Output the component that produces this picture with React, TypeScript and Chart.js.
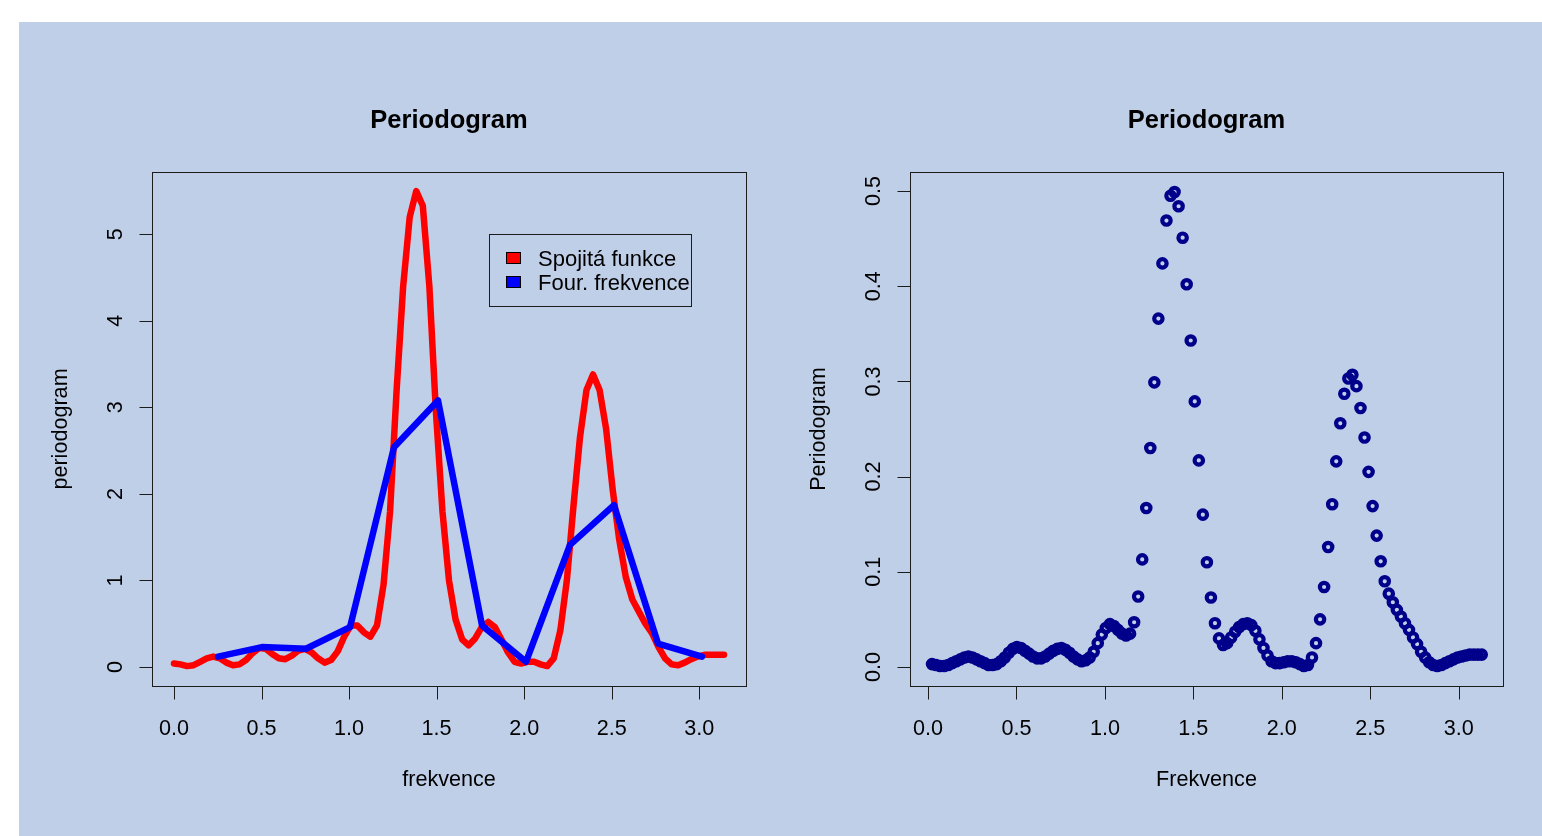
import React, { useEffect, useRef } from 'react';
import { Chart, registerables } from 'chart.js';

Chart.register(...registerables);

const FONT = '"Liberation Sans", Arial, Helvetica, sans-serif';
const BG = 'rgb(191,207,232)';

// ---------- left panel data ----------
// continuous periodogram sampled on [0, pi]
const RED_STEP = Math.PI / 84;
const redValues = [
  0.04, 0.03, 0.01, 0.02, 0.06, 0.10, 0.12, 0.10, 0.05, 0.02,
  0.03, 0.08, 0.16, 0.22, 0.21, 0.15, 0.10, 0.09, 0.13, 0.19,
  0.21, 0.17, 0.10, 0.05, 0.08, 0.18, 0.35, 0.48, 0.48, 0.40,
  0.35, 0.48, 0.95, 1.80, 3.20, 4.40, 5.20, 5.50, 5.33, 4.40,
  2.95, 1.80, 1.00, 0.55, 0.32, 0.25, 0.33, 0.46, 0.52, 0.46,
  0.32, 0.17, 0.06, 0.04, 0.06, 0.06, 0.03, 0.01, 0.10, 0.42,
  1.00, 1.85, 2.65, 3.20, 3.38, 3.20, 2.75, 2.05, 1.47, 1.04,
  0.78, 0.64, 0.50, 0.39, 0.23, 0.10, 0.03, 0.02, 0.05, 0.09,
  0.12, 0.14, 0.14, 0.14, 0.14,
];
// Fourier frequencies 2*pi*k/25, k = 1..12
const FOURIER_STEP = (2 * Math.PI) / 25;
const fourierValues = [0.12, 0.23, 0.21, 0.46, 2.54, 3.08, 0.48, 0.06, 1.41, 1.87, 0.27, 0.12];

const leftXTicks = [0, 0.5, 1, 1.5, 2, 2.5, 3];
const leftXTickLabels = ['0.0', '0.5', '1.0', '1.5', '2.0', '2.5', '3.0'];
const leftYTicks = [0, 1, 2, 3, 4, 5];
const leftYTickLabels = ['0', '1', '2', '3', '4', '5'];

// ---------- right panel data ----------
const DOT_STEP = (2 * Math.PI) / 275;
const dotValues = [
  0.003, 0.002, 0.001, 0.001, 0.002, 0.004, 0.006, 0.008, 0.010, 0.011,
  0.010, 0.008, 0.006, 0.004, 0.002, 0.002, 0.003, 0.006, 0.010, 0.015,
  0.019, 0.021, 0.020, 0.017, 0.014, 0.011, 0.009, 0.009, 0.011, 0.014,
  0.017, 0.019, 0.020, 0.018, 0.015, 0.011, 0.008, 0.006, 0.007, 0.010,
  0.016, 0.025, 0.034, 0.041, 0.045, 0.043, 0.039, 0.035, 0.033, 0.035,
  0.047, 0.074, 0.113, 0.167, 0.230, 0.299, 0.366, 0.424, 0.469, 0.495,
  0.499, 0.484, 0.451, 0.402, 0.343, 0.279, 0.217, 0.160, 0.110, 0.073,
  0.046, 0.030, 0.023, 0.025, 0.031, 0.037, 0.042, 0.045, 0.046, 0.044,
  0.038, 0.029, 0.020, 0.012, 0.006, 0.004, 0.004, 0.005, 0.006, 0.006,
  0.005, 0.003, 0.001, 0.002, 0.010, 0.025, 0.050, 0.084, 0.126, 0.171,
  0.216, 0.256, 0.287, 0.303, 0.307, 0.295, 0.272, 0.241, 0.205, 0.169,
  0.138, 0.111, 0.090, 0.077, 0.068, 0.060, 0.053, 0.046, 0.039, 0.031,
  0.024, 0.016, 0.010, 0.005, 0.002, 0.001, 0.002, 0.004, 0.006, 0.008,
  0.010, 0.011, 0.012, 0.013, 0.013, 0.013, 0.013,
];

const rightXTicks = [0, 0.5, 1, 1.5, 2, 2.5, 3];
const rightXTickLabels = ['0.0', '0.5', '1.0', '1.5', '2.0', '2.5', '3.0'];
const rightYTicks = [0, 0.1, 0.2, 0.3, 0.4, 0.5];
const rightYTickLabels = ['0.0', '0.1', '0.2', '0.3', '0.4', '0.5'];

// ---------- R-style axes / box / titles / legend ----------
const rAxesPlugin = {
  id: 'rAxes',
  afterDraw(chart: any, _args: any, o: any) {
    const { ctx, chartArea: a, scales } = chart;
    const xs = scales.x;
    const ys = scales.y;
    const TICK = 13;
    ctx.save();
    ctx.strokeStyle = '#1c1c1c';
    ctx.fillStyle = '#000';
    ctx.lineWidth = 1;
    // box
    ctx.strokeRect(a.left + 0.5, a.top + 0.5, a.right - a.left, a.bottom - a.top);

    // x axis ticks
    ctx.beginPath();
    o.xTicks.forEach((v: number) => {
      const px = Math.round(xs.getPixelForValue(v)) + 0.5;
      ctx.moveTo(px, a.bottom + 0.5);
      ctx.lineTo(px, a.bottom + 0.5 + TICK);
    });
    // y axis ticks
    o.yTicks.forEach((v: number) => {
      const py = Math.round(ys.getPixelForValue(v)) + 0.5;
      ctx.moveTo(a.left + 0.5, py);
      ctx.lineTo(a.left + 0.5 - TICK, py);
    });
    ctx.stroke();

    ctx.font = `21.6px ${FONT}`;
    ctx.textAlign = 'center';
    ctx.textBaseline = 'alphabetic';
    o.xTicks.forEach((v: number, i: number) => {
      ctx.fillText(o.xLabels[i], xs.getPixelForValue(v), a.bottom + 49);
    });
    o.yTicks.forEach((v: number, i: number) => {
      ctx.save();
      ctx.translate(a.left - 30, ys.getPixelForValue(v));
      ctx.rotate(-Math.PI / 2);
      ctx.fillText(o.yLabels[i], 0, 0);
      ctx.restore();
    });

    // axis titles
    const cx = (a.left + a.right) / 2;
    const cy = (a.top + a.bottom) / 2;
    ctx.fillText(o.xTitle, cx, a.bottom + 100);
    ctx.save();
    ctx.translate(a.left - 85, cy);
    ctx.rotate(-Math.PI / 2);
    ctx.fillText(o.yTitle, 0, 0);
    ctx.restore();

    // main title
    ctx.font = `bold 25.5px ${FONT}`;
    ctx.fillText(o.title, cx, a.top - 44);

    // legend
    if (o.legend) {
      const lx = Math.round(xs.getPixelForValue(o.legend.x));
      const ly = Math.round(ys.getPixelForValue(o.legend.y));
      ctx.strokeRect(lx + 0.5, ly + 0.5, o.legend.w, o.legend.h);
      ctx.font = `22px ${FONT}`;
      ctx.textAlign = 'left';
      o.legend.items.forEach((it: any, i: number) => {
        const boxTop = ly + 18 + i * 24;
        ctx.fillStyle = it.color;
        ctx.fillRect(lx + 17, boxTop, 15, 12);
        ctx.strokeStyle = '#000';
        ctx.strokeRect(lx + 17.5, boxTop + 0.5, 14, 11);
        ctx.fillStyle = '#000';
        ctx.fillText(it.label, lx + 49, ly + 32 + i * 23.5);
      });
    }
    ctx.restore();
  },
};

function useChart(ref: React.RefObject<HTMLCanvasElement>, makeConfig: () => any) {
  useEffect(() => {
    if (!ref.current) return;
    const chart = new Chart(ref.current, makeConfig());
    return () => chart.destroy();
  }, []);
}

const hiddenScale = (min: number, max: number) => ({
  type: 'linear',
  min,
  max,
  display: false,
});

function LeftPanel() {
  const ref = useRef<HTMLCanvasElement>(null);
  useChart(ref, () => {
    const redData = redValues.map((v, i) => ({ x: i * RED_STEP, y: v }));
    const fourierData = fourierValues.map((v, i) => ({ x: (i + 1) * FOURIER_STEP, y: v }));
    return {
      type: 'line',
      data: {
        datasets: [
          {
            label: 'Spojitá funkce',
            data: redData,
            borderColor: '#ff0000',
            borderWidth: 6.5,
            pointRadius: 0,
            tension: 0,
            fill: false,
            borderCapStyle: 'round',
            borderJoinStyle: 'round',
            order: 2,
          },
          {
            label: 'Four. frekvence',
            data: fourierData,
            borderColor: '#0000ff',
            borderWidth: 6.5,
            pointRadius: 0,
            tension: 0,
            fill: false,
            borderCapStyle: 'round',
            borderJoinStyle: 'round',
            order: 1,
          },
        ],
      },
      options: {
        animation: false,
        responsive: false,
        events: [],
        layout: { padding: { left: 133, top: 150, right: 34, bottom: 150 } },
        scales: { x: hiddenScale(-0.1257, 3.2673), y: hiddenScale(-0.22, 5.72) },
        plugins: {
          legend: { display: false },
          tooltip: { enabled: false },
          rAxes: {
            xTicks: leftXTicks,
            xLabels: leftXTickLabels,
            yTicks: leftYTicks,
            yLabels: leftYTickLabels,
            title: 'Periodogram',
            xTitle: 'frekvence',
            yTitle: 'periodogram',
            legend: {
              x: 1.8,
              y: 5.0,
              w: 202,
              h: 72,
              items: [
                { label: 'Spojitá funkce', color: '#ff0000' },
                { label: 'Four. frekvence', color: '#0000ff' },
              ],
            },
          },
        },
      },
      plugins: [rAxesPlugin],
    };
  });
  return <canvas ref={ref} width={761} height={814} style={{ width: 761, height: 814, display: 'block' }} />;
}

function RightPanel() {
  const ref = useRef<HTMLCanvasElement>(null);
  useChart(ref, () => {
    const dotData = dotValues.map((v, i) => ({ x: (i + 1) * DOT_STEP, y: v }));
    return {
      type: 'scatter',
      data: {
        datasets: [
          {
            label: 'Periodogram',
            data: dotData,
            showLine: false,
            pointStyle: 'circle',
            pointRadius: 4.2,
            pointBorderWidth: 4.2,
            pointBorderColor: '#00008b',
            pointBackgroundColor: 'rgba(0,0,0,0)',
            borderColor: '#00008b',
            backgroundColor: 'rgba(0,0,0,0)',
          },
        ],
      },
      options: {
        animation: false,
        responsive: false,
        events: [],
        layout: { padding: { left: 130, top: 150, right: 39, bottom: 150 } },
        scales: { x: hiddenScale(-0.1017, 3.2503), y: hiddenScale(-0.02, 0.52) },
        plugins: {
          legend: { display: false },
          tooltip: { enabled: false },
          rAxes: {
            xTicks: rightXTicks,
            xLabels: rightXTickLabels,
            yTicks: rightYTicks,
            yLabels: rightYTickLabels,
            title: 'Periodogram',
            xTitle: 'Frekvence',
            yTitle: 'Periodogram',
          },
        },
      },
      plugins: [rAxesPlugin],
    };
  });
  return <canvas ref={ref} width={762} height={814} style={{ width: 762, height: 814, display: 'block' }} />;
}

export default function App() {
  return (
    <div
      style={{
        position: 'fixed',
        left: 19,
        top: 22,
        width: 1523,
        height: 814,
        background: BG,
        display: 'flex',
        flexDirection: 'row',
        overflow: 'hidden',
      }}
    >
      <LeftPanel />
      <RightPanel />
    </div>
  );
}
